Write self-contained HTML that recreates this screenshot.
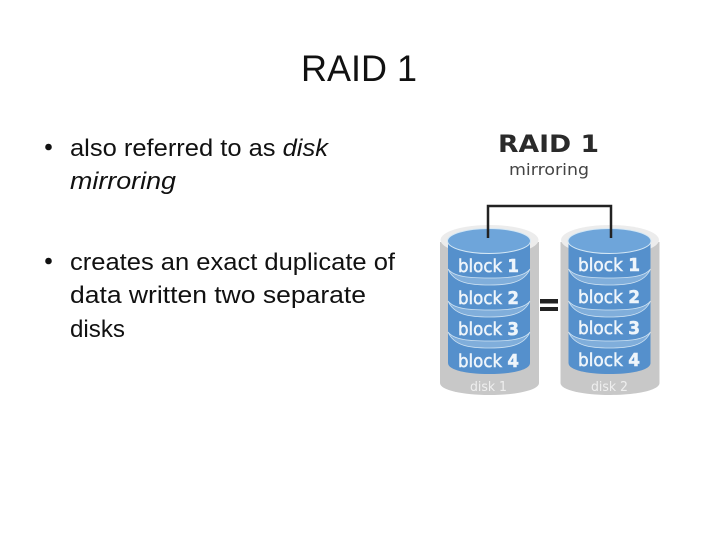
<!DOCTYPE html>
<html><head><meta charset="utf-8"><style>
html,body{margin:0;padding:0;background:#fff}
svg{display:block}
text{font-family:"Liberation Sans",sans-serif}
.v text,text.v{font-family:"DejaVu Sans",sans-serif}
</style></head><body>
<svg width="720" height="540" viewBox="0 0 720 540" xmlns="http://www.w3.org/2000/svg">
<defs>
<path id="sep" d="M8 0 C14 8 30 9 49 9 C68 9 84 8 90 0 C84 14 68 16 49 16 C30 16 14 14 8 0 Z" fill="#80aedb" stroke="#cfe3f3" stroke-width="0.800"/>
<g id="disk">
  <!-- local origin: x=can left, y=220 -->
  <path d="M0 22 V163 C0 170 22 175 49.500 175 C77 175 99 170 99 163 V22 Z" fill="#c8c8c8"/>
  <ellipse cx="49.500" cy="20" rx="49" ry="15" fill="#ececec"/>
  <!-- blue stack side -->
  <path d="M8 21 V143 C8 150 26 154 49 154 C72 154 90 150 90 143 V21 Z" fill="#5590cc"/>
  <!-- separators between blocks -->
  <use href="#sep" y="49"/>
  <use href="#sep" y="81"/>
  <use href="#sep" y="112"/>
  <!-- top surface -->
  <ellipse cx="49" cy="21" rx="41.500" ry="12.500" fill="#6ea5da" stroke="#d5e8f5" stroke-width="1"/>
</g>
</defs>

<text x="301" y="81" font-size="37" fill="#111" textLength="116" lengthAdjust="spacingAndGlyphs">RAID 1</text>

<circle cx="48.500" cy="147" r="3.300" fill="#111"/>
<circle cx="48.500" cy="261" r="3.300" fill="#111"/>
<g font-size="24" fill="#111">
  <text x="70" y="156" textLength="258" lengthAdjust="spacingAndGlyphs">also referred to as <tspan font-style="italic">disk</tspan></text>
  <text x="70" y="189" font-style="italic" textLength="106" lengthAdjust="spacingAndGlyphs">mirroring</text>
  <text x="70" y="270" textLength="325" lengthAdjust="spacingAndGlyphs">creates an exact duplicate of</text>
  <text x="70" y="303" textLength="296" lengthAdjust="spacingAndGlyphs">data written two separate</text>
  <text x="70" y="337" textLength="55" lengthAdjust="spacingAndGlyphs">disks</text>
</g>

<g class="v">
<text x="498" y="152" font-size="24" font-weight="bold" fill="#2a2a2a" textLength="101" lengthAdjust="spacingAndGlyphs">RAID 1</text>
<text x="509" y="175" font-size="16" fill="#444" textLength="80" lengthAdjust="spacingAndGlyphs">mirroring</text>
</g>

<use href="#disk" x="440" y="220"/>
<use href="#disk" x="560.500" y="220"/>

<path d="M488 238 V206 H611 V238" fill="none" stroke="#222" stroke-width="2.500"/>

<rect x="540" y="299" width="18" height="4.500" fill="#222"/>
<rect x="540" y="307" width="18" height="4" fill="#222"/>

<g class="v" font-size="18" fill="#eef5fb" stroke="#eef5fb" stroke-width="0.500">
  <text x="458" y="272" textLength="61" lengthAdjust="spacingAndGlyphs">block <tspan font-weight="bold">1</tspan></text>
  <text x="458" y="304" textLength="61" lengthAdjust="spacingAndGlyphs">block <tspan font-weight="bold">2</tspan></text>
  <text x="458" y="335" textLength="61" lengthAdjust="spacingAndGlyphs">block <tspan font-weight="bold">3</tspan></text>
  <text x="458" y="367" textLength="61" lengthAdjust="spacingAndGlyphs">block <tspan font-weight="bold">4</tspan></text>
  <text x="578" y="271" textLength="62" lengthAdjust="spacingAndGlyphs">block <tspan font-weight="bold">1</tspan></text>
  <text x="578" y="303" textLength="62" lengthAdjust="spacingAndGlyphs">block <tspan font-weight="bold">2</tspan></text>
  <text x="578" y="334" textLength="62" lengthAdjust="spacingAndGlyphs">block <tspan font-weight="bold">3</tspan></text>
  <text x="578" y="366" textLength="62" lengthAdjust="spacingAndGlyphs">block <tspan font-weight="bold">4</tspan></text>
</g>
<g class="v" font-size="13" fill="#efefef">
  <text x="470" y="391" textLength="37" lengthAdjust="spacingAndGlyphs">disk 1</text>
  <text x="591" y="391" textLength="37" lengthAdjust="spacingAndGlyphs">disk 2</text>
</g>
</svg>
</body></html>
